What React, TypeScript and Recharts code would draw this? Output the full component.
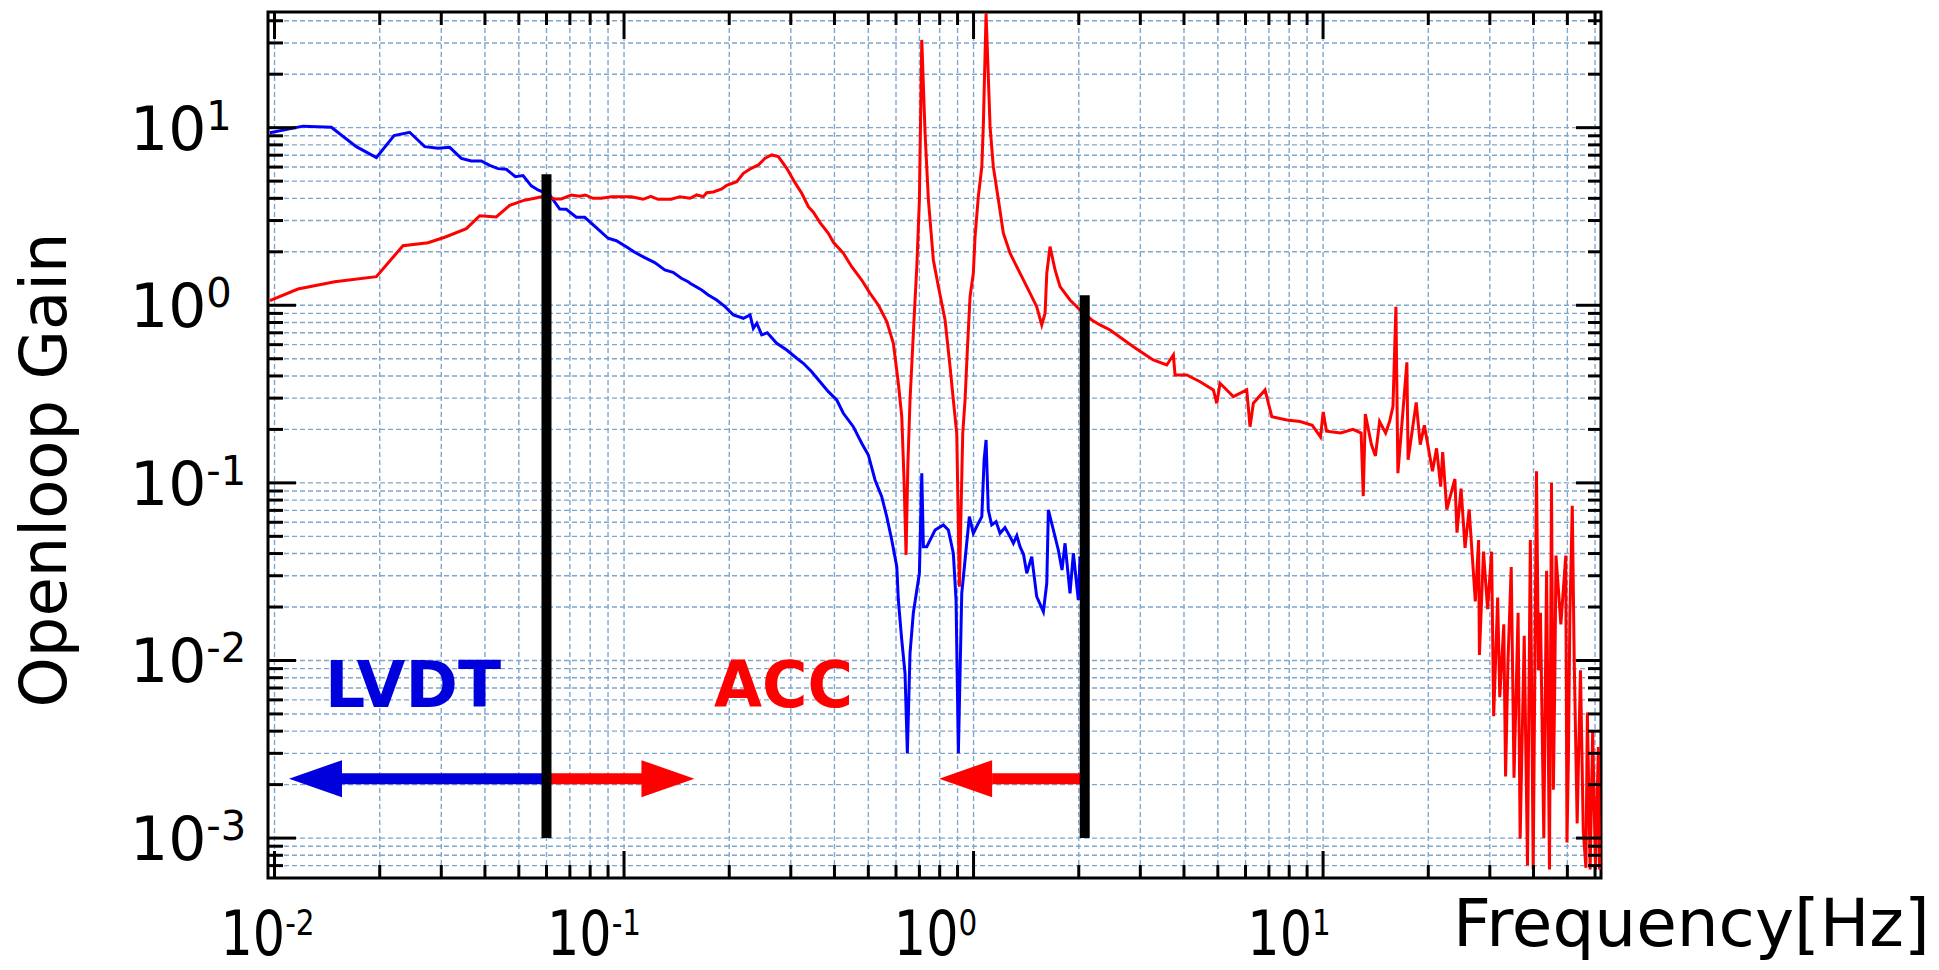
import React from "react";
import {
  ComposedChart,
  Line,
  Scatter,
  XAxis,
  YAxis,
  CartesianGrid,
  ReferenceArea,
} from "recharts";

const FONT = '"DejaVu Sans", Verdana, sans-serif';

// page size and plot box (page pixels)
const W = 1939;
const H = 970;
const PLOT = { left: 268, top: 12, right: 1601, bottom: 878 };

const X_DOMAIN: [number, number] = [0.00958, 62.4];
const Y_DOMAIN: [number, number] = [0.000596, 44.8];

const xTicks = [
  0.01, 0.02, 0.03, 0.04, 0.05, 0.06, 0.07, 0.08, 0.09,
  0.1, 0.2, 0.3, 0.4, 0.5, 0.6, 0.7, 0.8, 0.9,
  1, 2, 3, 4, 5, 6, 7, 8, 9,
  10, 20, 30, 40, 50, 60,
];

const yTicks = [
  0.0007, 0.0008, 0.0009,
  0.001, 0.002, 0.003, 0.004, 0.005, 0.006, 0.007, 0.008, 0.009,
  0.01, 0.02, 0.03, 0.04, 0.05, 0.06, 0.07, 0.08, 0.09,
  0.1, 0.2, 0.3, 0.4, 0.5, 0.6, 0.7, 0.8, 0.9,
  1, 2, 3, 4, 5, 6, 7, 8, 9,
  10, 20, 30, 40,
];

// the x decade labels sit a little left of their ticks in the original
const xLabelShift: Record<string, number> = { "-2": -7, "-1": -30, "0": -38, "1": -34 };

// LVDT loop, [frequency Hz, openloop gain]
const lvdtGain: [number, number][] = [
  [0.0097, 9.37], [0.01207, 10.2], [0.01454, 10.05], [0.01714, 7.82],
  [0.01956, 6.78], [0.02198, 9.02], [0.02436, 9.42], [0.0269, 7.82],
  [0.02937, 7.66], [0.03172, 7.75], [0.03424, 6.72], [0.03656, 6.49],
  [0.03905, 6.49], [0.04127, 6.14], [0.04359, 5.88], [0.04604, 5.83],
  [0.04887, 5.3], [0.0514, 5.37], [0.05429, 4.7], [0.05674, 4.46],
  [0.06129, 4.18], [0.06546, 3.48], [0.06837, 3.47], [0.07302, 3.13],
  [0.07719, 3.13], [0.08331, 2.735], [0.09, 2.384], [0.09506, 2.31],
  [0.1015, 2.138], [0.1073, 1.988], [0.1146, 1.854], [0.1224, 1.738],
  [0.1308, 1.58], [0.1381, 1.534], [0.1459, 1.419], [0.1525, 1.358],
  [0.1545, 1.33], [0.1668, 1.219], [0.1742, 1.143], [0.1841, 1.071],
  [0.1945, 0.982], [0.2055, 0.882], [0.2195, 0.845], [0.2294, 0.882],
  [0.2344, 0.742], [0.2398, 0.792], [0.2477, 0.681], [0.257, 0.701],
  [0.2734, 0.611], [0.2921, 0.56], [0.3119, 0.503], [0.3258, 0.4714],
  [0.3443, 0.4228], [0.3637, 0.3713], [0.3842, 0.3263], [0.4061, 0.2929],
  [0.4241, 0.2465], [0.4529, 0.2072], [0.4786, 0.1671], [0.5, 0.1436],
  [0.5226, 0.1038], [0.5461, 0.0836], [0.5645, 0.0645], [0.5834, 0.0477],
  [0.6031, 0.03375], [0.6093, 0.02191], [0.6232, 0.01304], [0.6368, 0.00847],
  [0.6465, 0.003], [0.658, 0.01098], [0.6724, 0.01844], [0.6882, 0.02493],
  [0.6999, 0.03097], [0.711, 0.1133], [0.7186, 0.04374], [0.7348, 0.04374],
  [0.776, 0.05429], [0.8196, 0.05794], [0.847, 0.05429], [0.8753, 0.04014],
  [0.8911, 0.02191], [0.9048, 0.003], [0.9252, 0.0239], [0.9456, 0.0368],
  [0.9727, 0.0645], [0.9986, 0.052], [1.032, 0.05923], [1.056, 0.0645],
  [1.072, 0.1346], [1.086, 0.1744], [1.102, 0.07038], [1.127, 0.05794],
  [1.16, 0.0605], [1.191, 0.052], [1.23, 0.056], [1.272, 0.0498],
  [1.3, 0.0457], [1.33, 0.0505], [1.358, 0.04374], [1.39, 0.0395],
  [1.42, 0.03097], [1.467, 0.03842], [1.516, 0.02286], [1.584, 0.01883],
  [1.62, 0.02721], [1.637, 0.07038], [1.692, 0.05429], [1.748, 0.04191],
  [1.791, 0.03233], [1.827, 0.0457], [1.888, 0.0239], [1.93, 0.04014],
  [1.994, 0.02191], [2.017, 0.03842],
];

// accelerometer loop, [frequency Hz, openloop gain]
const accGain: [number, number][] = [
  [0.0097, 1.061], [0.01167, 1.235], [0.01487, 1.358], [0.01956, 1.449],
  [0.02331, 2.166], [0.02749, 2.252], [0.03069, 2.415], [0.03539, 2.699],
  [0.03864, 3.195], [0.0431, 3.142], [0.0471, 3.657], [0.0514, 3.882],
  [0.05552, 4.004], [0.0593, 4.125], [0.06333, 3.968], [0.06615, 3.968],
  [0.07066, 4.18], [0.07467, 4.109], [0.0775, 4.18], [0.08152, 4.004],
  [0.0861, 4.004], [0.092, 4.088], [0.105, 4.088], [0.1134, 3.952],
  [0.1193, 4.109], [0.1251, 3.952], [0.1366, 3.952], [0.1444, 4.088],
  [0.1545, 4.004], [0.1614, 4.18], [0.1686, 4.088], [0.1724, 4.305],
  [0.1801, 4.345], [0.1904, 4.516], [0.1967, 4.739], [0.2102, 4.965],
  [0.2195, 5.536], [0.2294, 5.855], [0.2423, 6.166], [0.2532, 6.725],
  [0.2646, 7.02], [0.2764, 6.866], [0.2921, 5.908], [0.3084, 4.901],
  [0.3224, 4.272], [0.3368, 3.591], [0.348, 3.339], [0.3637, 2.918],
  [0.3842, 2.544], [0.3972, 2.263], [0.4241, 1.963], [0.4481, 1.649],
  [0.4786, 1.388], [0.5057, 1.168], [0.534, 1.004], [0.5645, 0.8087],
  [0.5896, 0.611], [0.6093, 0.3637], [0.6232, 0.2359], [0.6326, 0.1038],
  [0.6411, 0.0393], [0.6485, 0.1234], [0.658, 0.2929], [0.6801, 1.071],
  [0.6882, 1.649], [0.6999, 3.916], [0.711, 31.2], [0.7266, 9.3],
  [0.7427, 3.916], [0.7674, 1.799], [0.7934, 1.273], [0.8289, 0.8264],
  [0.8565, 0.4512], [0.8753, 0.2929], [0.8952, 0.1903], [0.911, 0.026],
  [0.9313, 0.1903], [0.9456, 0.2929], [0.96, 0.56], [0.9772, 1.118],
  [0.9986, 1.514], [1.01, 2.434], [1.032, 4.088], [1.056, 6.031],
  [1.067, 10.59], [1.086, 44], [1.115, 10.13], [1.139, 6.031],
  [1.178, 3.916], [1.217, 2.544], [1.272, 1.963], [1.329, 1.649],
  [1.42, 1.273], [1.516, 0.982], [1.567, 0.775], [1.602, 0.9016],
  [1.62, 1.514], [1.655, 2.138], [1.711, 1.58], [1.768, 1.273],
  [1.888, 1.071], [2.017, 0.9408], [2.179, 0.8264], [2.301, 0.7748],
  [2.458, 0.726], [2.866, 0.5846], [3.163, 0.5135], [3.268, 0.492],
  [3.571, 0.4612], [3.73, 0.5252], [3.771, 0.405], [4.074, 0.405],
  [4.448, 0.3713], [4.855, 0.3336], [4.964, 0.2807], [5.073, 0.3637],
  [5.538, 0.3058], [6.048, 0.3336], [6.18, 0.2072], [6.318, 0.2807],
  [6.823, 0.3336], [7.133, 0.2359], [7.873, 0.2261], [8.597, 0.2214],
  [9.314, 0.2108], [9.831, 0.1816], [10.01, 0.2506], [10.23, 0.1955],
  [11.23, 0.1908], [12.18, 0.2003], [12.85, 0.1908], [13.03, 0.0842],
  [13.21, 0.2443], [13.75, 0.1643], [14.12, 0.1418], [14.51, 0.2214],
  [15.1, 0.1908], [15.5, 0.2214], [15.85, 0.27], [16.16, 0.98],
  [16.37, 0.1133], [17.04, 0.2983], [17.37, 0.4777], [17.51, 0.1348],
  [18.47, 0.2836], [18.97, 0.1643], [19.49, 0.2108], [20.56, 0.1161],
  [21.12, 0.1564], [21.7, 0.0952], [21.99, 0.1489], [22.59, 0.0708],
  [23.83, 0.1052], [24.16, 0.0525], [24.82, 0.0929], [25.48, 0.0431],
  [26.18, 0.0708], [26.9, 0.032], [27.26, 0.0215], [27.86, 0.0476],
  [28.01, 0.01074], [28.77, 0.041], [29.56, 0.01948], [30.35, 0.041],
  [30.77, 0.00485], [31.59, 0.0226], [32.03, 0.00622], [32.89, 0.01597],
  [33.28, 0.00222], [33.8, 0.00972], [34.54, 0.0336], [35.18, 0.00219],
  [36.14, 0.01854], [36.63, 0.000992], [37.63, 0.01376], [38.45, 0.000701],
  [39.17, 0.0476], [39.92, 0.000666], [40.8, 0.1161], [41.33, 0.0088],
  [41.88, 0.01854], [42.81, 0.001], [43.6, 0.032], [44.44, 0.000666],
  [45.03, 0.1001], [45.6, 0.00187], [46.03, 0.00759], [46.39, 0.039],
  [47.9, 0.01597], [49.47, 0.039], [49.87, 0.000943], [50.33, 0.00275],
  [50.83, 0.01762], [51.64, 0.0743], [52.32, 0.00972], [53.33, 0.00121],
  [54.51, 0.0088], [55.52, 0.001095], [56.5, 0.00068], [57.04, 0.0051],
  [58.1, 0.000666], [59.07, 0.00398], [60.17, 0.000666], [61.33, 0.00326],
  [61.82, 0.000666],
];

// blending frequencies (black bars) and their top ends
const blendFreqs = [0.06, 2.08];
const blendTops = [5.46, 1.14];
const blendBottom = 0.001;

// arrows: level, shaft ends and tip positions
const arrowLevel = 0.00216;
const lvdtArrow = { from: 0.0156, to: 0.06, tip: 0.011 };
const accArrowUp = { from: 0.06, to: 0.1133, tip: 0.159 };
const accArrowDown = { from: 2.12, to: 1.13, tip: 0.797 };

const BLUE = "#0000ff";
const RED = "#ff0000";
const TEXT_BLUE = "#0000dd";

const rows = (pts: [number, number][]) => pts.map(([f, v]) => ({ f, v }));

const isDecade = (v: number) =>
  Math.abs(Math.log10(v) - Math.round(Math.log10(v))) < 1e-6;

function XTick(props: any) {
  const { x, y, payload } = props;
  const v = payload.value;
  const major = isDecade(v);
  const len = major ? 27 : 13;
  const exp = String(Math.round(Math.log10(v)));
  const cx = x + (xLabelShift[exp] ?? -30);
  return (
    <g>
      <line x1={x} x2={x} y1={y} y2={y - len} stroke="#000" strokeWidth={3} />
      <line
        x1={x}
        x2={x}
        y1={PLOT.top}
        y2={PLOT.top + len}
        stroke="#000"
        strokeWidth={3}
      />
      {major && (
        <text
          transform={`translate(${cx} ${y + 77}) scale(0.82 1)`}
          textAnchor="middle"
          fontFamily={FONT}
          fontSize={62}
          fill="#000"
        >
          10
          <tspan fontSize={36} dy={-20}>
            {exp}
          </tspan>
        </text>
      )}
    </g>
  );
}

function YTick(props: any) {
  const { x, y, payload } = props;
  const v = payload.value;
  const major = isDecade(v);
  const len = major ? 28 : 15;
  const rlen = major ? 25 : 13;
  return (
    <g>
      <line x1={x} x2={x + len} y1={y} y2={y} stroke="#000" strokeWidth={3} />
      <line
        x1={PLOT.right}
        x2={PLOT.right - rlen}
        y1={y}
        y2={y}
        stroke="#000"
        strokeWidth={3}
      />
      {major && (
        <text x={130} y={y + 22} fontFamily={FONT} fontSize={60} fill="#000">
          10
          <tspan fontSize={40} dy={-20}>
            {String(Math.round(Math.log10(v)))}
          </tspan>
        </text>
      )}
    </g>
  );
}

// arrow heads, drawn at the tip point
const headLeft = (color: string) => (p: any) =>
  (
    <polygon
      points={`${p.cx},${p.cy} ${p.cx + 53},${p.cy - 18.5} ${p.cx + 53},${p.cy + 18.5}`}
      fill={color}
    />
  );
const headRight = (color: string) => (p: any) =>
  (
    <polygon
      points={`${p.cx},${p.cy} ${p.cx - 53},${p.cy - 18.5} ${p.cx - 53},${p.cy + 18.5}`}
      fill={color}
    />
  );

export default function App() {
  const yAxisW = 60;
  const xAxisH = 60;
  return (
    <div
      style={{
        position: "absolute",
        left: 0,
        top: 0,
        width: W,
        height: H,
        background: "#fff",
      }}
    >
      <ComposedChart
        width={W}
        height={H}
        margin={{
          top: PLOT.top,
          right: W - PLOT.right,
          bottom: H - PLOT.bottom - xAxisH,
          left: PLOT.left - yAxisW,
        }}
      >
        <CartesianGrid stroke="#7fa7cc" strokeDasharray="5 3" strokeWidth={1.4} />
        <XAxis
          dataKey="f"
          type="number"
          scale="log"
          domain={X_DOMAIN}
          allowDataOverflow
          ticks={xTicks}
          interval={0}
          height={xAxisH}
          axisLine={false}
          tickLine={false}
          tickSize={0}
          tickMargin={0}
          tick={(p: any) => <XTick {...p} />}
        />
        <YAxis
          dataKey="v"
          type="number"
          scale="log"
          domain={Y_DOMAIN}
          allowDataOverflow
          ticks={yTicks}
          interval={0}
          width={yAxisW}
          axisLine={false}
          tickLine={false}
          tickSize={0}
          tickMargin={0}
          tick={(p: any) => <YTick {...p} />}
        />

        <Line
          data={rows(lvdtGain)}
          dataKey="v"
          stroke={BLUE}
          strokeWidth={3}
          dot={false}
          activeDot={false}
          isAnimationActive={false}
        />
        <Line
          data={rows(accGain)}
          dataKey="v"
          stroke={RED}
          strokeWidth={3}
          dot={false}
          activeDot={false}
          isAnimationActive={false}
        />

        {/* arrow shafts */}
        <Line
          data={[
            { f: lvdtArrow.from, v: arrowLevel },
            { f: lvdtArrow.to, v: arrowLevel },
          ]}
          dataKey="v"
          stroke={TEXT_BLUE}
          strokeWidth={11}
          dot={false}
          activeDot={false}
          isAnimationActive={false}
        />
        <Line
          data={[
            { f: accArrowUp.from, v: arrowLevel },
            { f: accArrowUp.to, v: arrowLevel },
          ]}
          dataKey="v"
          stroke={RED}
          strokeWidth={11}
          dot={false}
          activeDot={false}
          isAnimationActive={false}
        />
        <Line
          data={[
            { f: accArrowDown.to, v: arrowLevel },
            { f: accArrowDown.from, v: arrowLevel },
          ]}
          dataKey="v"
          stroke={RED}
          strokeWidth={11}
          dot={false}
          activeDot={false}
          isAnimationActive={false}
        />
        <Scatter
          data={[{ f: lvdtArrow.tip, v: arrowLevel }]}
          shape={headLeft(TEXT_BLUE)}
          isAnimationActive={false}
        />
        <Scatter
          data={[{ f: accArrowUp.tip, v: arrowLevel }]}
          shape={headRight(RED)}
          isAnimationActive={false}
        />
        <Scatter
          data={[{ f: accArrowDown.tip, v: arrowLevel }]}
          shape={headLeft(RED)}
          isAnimationActive={false}
        />

        {/* blending frequency bars */}
        {blendFreqs.map((f, i) => (
          <Line
            key={f}
            data={[
              { f, v: blendBottom },
              { f, v: blendTops[i] },
            ]}
            dataKey="v"
            stroke="#000"
            strokeWidth={10}
            dot={false}
            activeDot={false}
            isAnimationActive={false}
          />
        ))}

        <ReferenceArea
          x1={X_DOMAIN[0]}
          x2={X_DOMAIN[1]}
          y1={Y_DOMAIN[0]}
          y2={Y_DOMAIN[1]}
          fill="none"
          fillOpacity={0}
          stroke="#000"
          strokeWidth={3}
        />
      </ComposedChart>

      <svg
        width={W}
        height={H}
        style={{ position: "absolute", left: 0, top: 0, pointerEvents: "none" }}
      >
        <text
          transform="translate(66 470) rotate(-90)"
          textAnchor="middle"
          fontFamily={FONT}
          fontSize={64}
          fill="#000"
        >
          Openloop Gain
        </text>
        <text x={1453} y={946} fontFamily={FONT} fontSize={66} fill="#000">
          Frequency[Hz]
        </text>
        <text
          x={325}
          y={707}
          fontFamily={FONT}
          fontWeight="bold"
          fontSize={64}
          fill={TEXT_BLUE}
          textLength={176}
          lengthAdjust="spacingAndGlyphs"
        >
          LVDT
        </text>
        <text
          x={714}
          y={707}
          fontFamily={FONT}
          fontWeight="bold"
          fontSize={64}
          fill={RED}
          textLength={139}
          lengthAdjust="spacingAndGlyphs"
        >
          ACC
        </text>
      </svg>
    </div>
  );
}
